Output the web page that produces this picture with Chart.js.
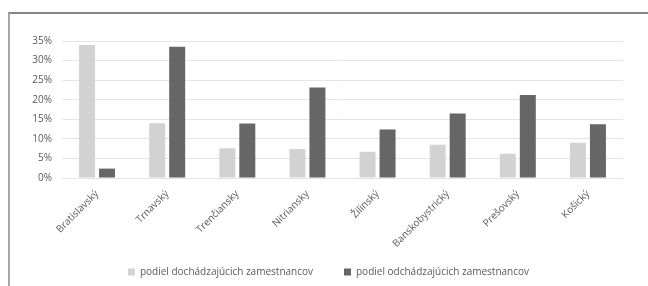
<!DOCTYPE html>
<html>
<head>
<meta charset="utf-8">
<script src="https://cdn.jsdelivr.net/npm/chart.js@4.4.1/dist/chart.umd.min.js"></script>
<style>
    html, body { margin: 0; padding: 0; background: #fff; overflow: hidden; width: 648px; height: 286px; }
    #frame {
        position: absolute; left: 8px; top: 12px; width: 700px; height: 320px;
        border-top: 2px solid #858585; border-left: 2px solid #a8a8a8;
    }
    #wrap { position: absolute; left: 0; top: 0; width: 648px; height: 307px; }
</style>
</head>
<body>
<div id="frame"></div>
<div id="wrap"><canvas id="chart"></canvas></div>
<script>
// Regions of Slovakia (kraje)
const categories = ['Bratislavský', 'Trnavský', 'Trenčiansky', 'Nitriansky', 'Žilinský', 'Banskobystrický', 'Prešovský', 'Košický'];

// share of commuting-in / commuting-out employees, in %
const incoming = [34.0, 14.0, 7.6, 7.4, 6.7, 8.5, 6.2, 9.0];
const outgoing = [2.4, 33.5, 13.9, 23.1, 12.4, 16.5, 21.2, 13.7];

const seriesLabels = ['podiel dochádzajúcich zamestnancov', 'podiel odchádzajúcich zamestnancov'];
const yTicks = [0, 5, 10, 15, 20, 25, 30, 35];

const font = { family: "'Open Sans', 'Liberation Sans', sans-serif", size: 10 };
const textColor = '#595959';

// legend sits a bit right of centre and tucked up under the rotated labels
const legendShift = {
    id: 'legendShift',
    afterLayout(chart) {
        const lg = chart.legend;
        lg.left += 12;
        lg.right += 12;
        lg.top -= 20;
        lg.bottom -= 20;
    }
};

const ctx = document.getElementById('chart').getContext('2d');
new Chart(ctx, {
    type: 'bar',
    data: {
        labels: categories,
        datasets: [
            { label: seriesLabels[0], data: incoming, backgroundColor: '#d2d2d2' },
            { label: seriesLabels[1], data: outgoing, backgroundColor: '#666666' }
        ]
    },
    plugins: [legendShift],
    options: {
        responsive: true,
        maintainAspectRatio: false,
        animation: false,
        categoryPercentage: 0.57,
        barPercentage: 0.8,
        layout: { padding: { left: 10, right: 25, top: 41, bottom: 0 } },
        plugins: {
            tooltip: { enabled: false },
            legend: {
                position: 'bottom',
                labels: {
                    font, color: textColor,
                    boxWidth: 7, boxHeight: 7,
                    padding: 31
                }
            }
        },
        scales: {
            x: {
                grid: { display: false },
                border: { display: false },
                ticks: { font, color: textColor, minRotation: 45, maxRotation: 45, autoSkip: false, padding: 2 },
                afterFit: scale => { scale.height = 78; }
            },
            y: {
                min: 0, max: 35,
                grid: { color: '#e4e4e4', drawTicks: false },
                border: { display: false },
                afterBuildTicks: scale => { scale.ticks = yTicks.map(v => ({ value: v })); },
                ticks: { font, color: textColor, padding: 10, callback: v => v + '%' },
                afterFit: scale => { scale.width = 52; }
            }
        }
    }
});
</script>
</body>
</html>
